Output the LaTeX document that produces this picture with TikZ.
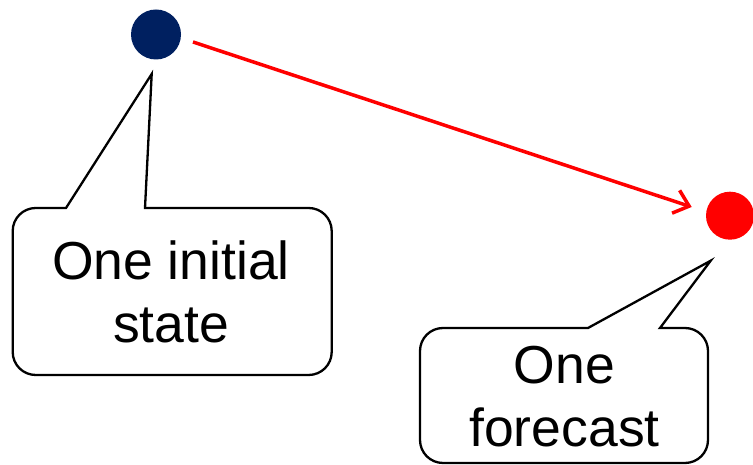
\documentclass[tikz,border=0pt]{standalone}
\usepackage{fontspec}
\setmainfont{Liberation Sans}
\usetikzlibrary{arrows.meta}
\definecolor{navy}{HTML}{002060}
\definecolor{fcred}{HTML}{FF0000}
\begin{document}
\begin{tikzpicture}[x=1pt,y=1pt,
  dot/.style={circle,inner sep=0pt,minimum size=#1},
  callout/.style={draw=black,line width=2.3pt,fill=white,line join=miter},
  label/.style={align=center,font=\fontsize{53.5}{63}\selectfont,inner sep=0pt},
  flow/.style={draw=fcred,line width=3.5pt,-{Straight Barb[length=14pt,width=24pt,line width=3.5pt]}}]
\useasboundingbox (0,0) rectangle (753,465);
% dots
\node[dot=50pt,fill=navy] (ic) at (156,430.5) {};
\node[dot=48pt,fill=fcred] (fc) at (730,249.3) {};
\coordinate (s) at (193,423);
\coordinate (e) at (691.7,258);
\draw[flow] (s) -- (e);
% callout 1
\coordinate (t1) at (151.7,391);
\draw[callout] (66,257) -- (t1) -- (145,257) -- (308.7,257)
  arc[start angle=90,end angle=0,radius=23pt] -- (331.7,113)
  arc[start angle=0,end angle=-90,radius=23pt] -- (35.7,90)
  arc[start angle=270,end angle=180,radius=23pt] -- (12.7,234)
  arc[start angle=180,end angle=90,radius=23pt] -- cycle;
\node[label,anchor=base] (l1a) at (171,185) {One initial};
\node[label,anchor=base] (l1b) at (171,122) {state};
% callout 2
\coordinate (t2) at (710.7,204.3);
\draw[callout] (588,137) -- (t2) -- (660,137) -- (685,137)
  arc[start angle=90,end angle=0,radius=23pt] -- (708,25)
  arc[start angle=0,end angle=-90,radius=23pt] -- (443,2)
  arc[start angle=270,end angle=180,radius=23pt] -- (420,114)
  arc[start angle=180,end angle=90,radius=23pt] -- cycle;
\node[label,anchor=base] (l2a) at (564.5,81) {One};
\node[label,anchor=base] (l2b) at (564.5,18) {forecast};
\end{tikzpicture}
\end{document}
